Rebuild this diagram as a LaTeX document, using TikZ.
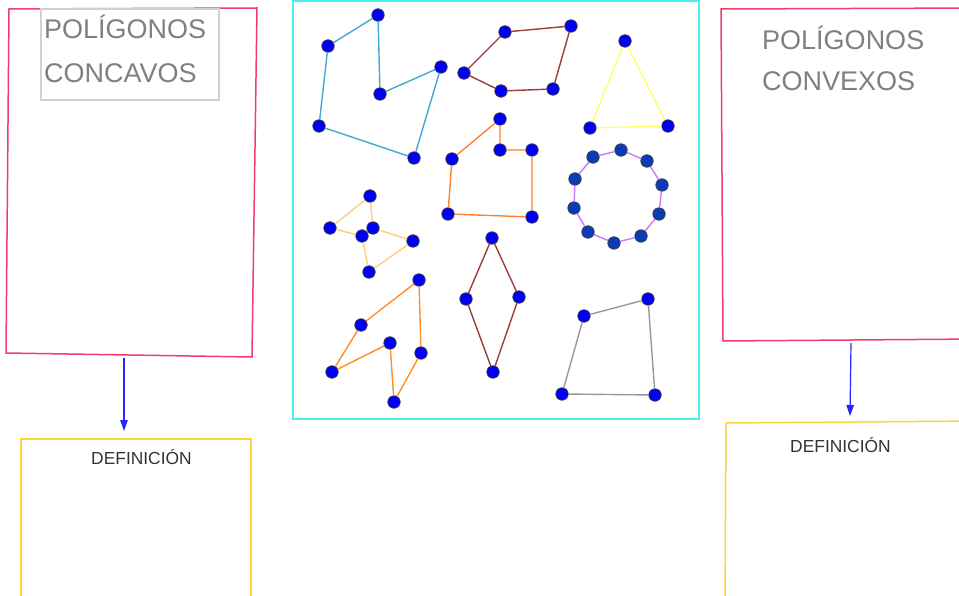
\documentclass[tikz,border=0pt]{standalone}
\usepackage{fontspec}
\setmainfont{Liberation Sans}
\usepackage{tikz}
\usetikzlibrary{arrows.meta}
\definecolor{Borde}{HTML}{F23D68}
\definecolor{Marco}{HTML}{4DF0F0}
\definecolor{Oro}{HTML}{FFD43A}
\definecolor{Flecha}{HTML}{2626FF}
\definecolor{Punto}{HTML}{0000F5}
\definecolor{PuntoOsc}{HTML}{0A3CB8}
\definecolor{Celeste}{HTML}{3FA8D4}
\definecolor{Granate}{HTML}{9C3C3C}
\definecolor{Limon}{HTML}{FFFF6A}
\definecolor{Naranja}{HTML}{FF8030}
\definecolor{Melon}{HTML}{FFCC80}
\definecolor{Lila}{HTML}{CC77FF}

\begin{document}
\begin{tikzpicture}[x=1pt, y=-1pt,
  dot/.style={circle, fill=Punto, draw=black!75, line width=0.7, inner sep=0, minimum size=12.5},
  dotosc/.style={dot, fill=PuntoOsc},
  lado/.style={line width=1.4},
  titulo/.style={anchor=base west, inner sep=0, text=gray, font=\fontsize{27}{32}\selectfont},
  defi/.style={anchor=base west, inner sep=0, text=black!80, font=\fontsize{17.4}{20}\selectfont},
  flecha/.style={Flecha, line width=1.2, -{Triangle[length=11pt, width=7.5pt]}}]
  \useasboundingbox (0,0) rectangle (959,596);
  \clip (0,0) rectangle (959,596);

  % cajas
  \draw[Borde, line width=1.5] (9,9) -- (257,8) -- (252,357) -- (6,353) -- cycle;
  \draw[black!18, line width=1.2] (41,9) rectangle (219,100);
  \draw[Borde, line width=1.5] (980,8) -- (721,9) -- (723,341) -- (980,339);
  \draw[Marco, line width=1.6] (293,1) rectangle (699,419);
  \draw[Oro, line width=1.5] (21,610) -- (21,439) -- (251,439) -- (251,610);
  \draw[Oro, line width=1.5] (725,610) -- (726,423) -- (980,421);

  \node[titulo] (polIzq) at (44,39) {POLÍGONOS};
  \node[titulo] (concavos) at (44,83) {CONCAVOS};
  \node[titulo] (polDer) at (762,50) {POLÍGONOS};
  \node[titulo] (convexos) at (762,91) {CONVEXOS};
  \node[defi] (defIzq) at (91,464) {DEFINICIÓN};
  \node[defi] (defDer) at (790,452) {DEFINICIÓN};

  % flechas
  \coordinate (baseIzq) at (124,358);
  \coordinate (cajaIzq) at (124,431);
  \coordinate (baseDer) at (851,343);
  \coordinate (cajaDer) at (850,416);
  \draw[flecha] (baseIzq) -- (cajaIzq);
  \draw[flecha] (baseDer) -- (cajaDer);

  % poligonos
  \foreach \x/\y [count=\i] in {378/15, 328/46, 319/126, 414/158, 441/67, 380/94}
    \node[dot] (az\i) at (\x,\y) {};
  \draw[Celeste, lado] (az1) -- (az2) -- (az3) -- (az4) -- (az5) -- (az6) -- (az1);

  \foreach \x/\y [count=\i] in {505/32, 571/26, 553/89, 501/91, 464/73}
    \node[dot] (gr\i) at (\x,\y) {};
  \draw[Granate, lado] (gr1) -- (gr2) -- (gr3) -- (gr4) -- (gr5) -- (gr1);

  \foreach \x/\y [count=\i] in {625/41, 668/126, 590/128}
    \node[dot] (tr\i) at (\x,\y) {};
  \draw[Limon, lado] (tr1) -- (tr2) -- (tr3) -- (tr1);

  \foreach \x/\y [count=\i] in {500/119, 500/150, 532/150, 532/217, 448/214, 452/159}
    \node[dot] (na\i) at (\x,\y) {};
  \draw[Naranja, lado] (na1) -- (na2) -- (na3) -- (na4) -- (na5) -- (na6) -- (na1);

  \foreach \x/\y [count=\i] in {593/157, 621/150, 647/161, 662/185, 659/214,
                               641/236, 614/243, 588/232, 574/208, 575/179}
    \node[dotosc] (li\i) at (\x,\y) {};
  \draw[Lila, lado] (li1) -- (li2) -- (li3) -- (li4) -- (li5) -- (li6) -- (li7)
    -- (li8) -- (li9) -- (li10) -- (li1);

  \foreach \x/\y [count=\i] in {370/196, 330/228, 362/236, 369/272, 413/241, 373/228}
    \node[dot] (me\i) at (\x,\y) {};
  \draw[Melon, lado] (me1) -- (me2) -- (me3) -- (me4) -- (me5) -- (me6) -- (me1);

  \foreach \x/\y [count=\i] in {419/280, 361/325, 332/372, 390/343, 394/402, 421/353}
    \node[dot] (ob\i) at (\x,\y) {};
  \draw[Naranja!90!yellow, lado] (ob1) -- (ob2) -- (ob3) -- (ob4) -- (ob5) -- (ob6) -- (ob1);

  \foreach \x/\y [count=\i] in {492/238, 466/299, 493/372, 519/297}
    \node[dot] (ro\i) at (\x,\y) {};
  \draw[Granate, lado] (ro1) -- (ro2) -- (ro3) -- (ro4) -- (ro1);

  \foreach \x/\y [count=\i] in {584/316, 648/299, 655/395, 562/394}
    \node[dot] (gs\i) at (\x,\y) {};
  \draw[black!40, lado] (gs1) -- (gs2) -- (gs3) -- (gs4) -- (gs1);
\end{tikzpicture}
\end{document}
